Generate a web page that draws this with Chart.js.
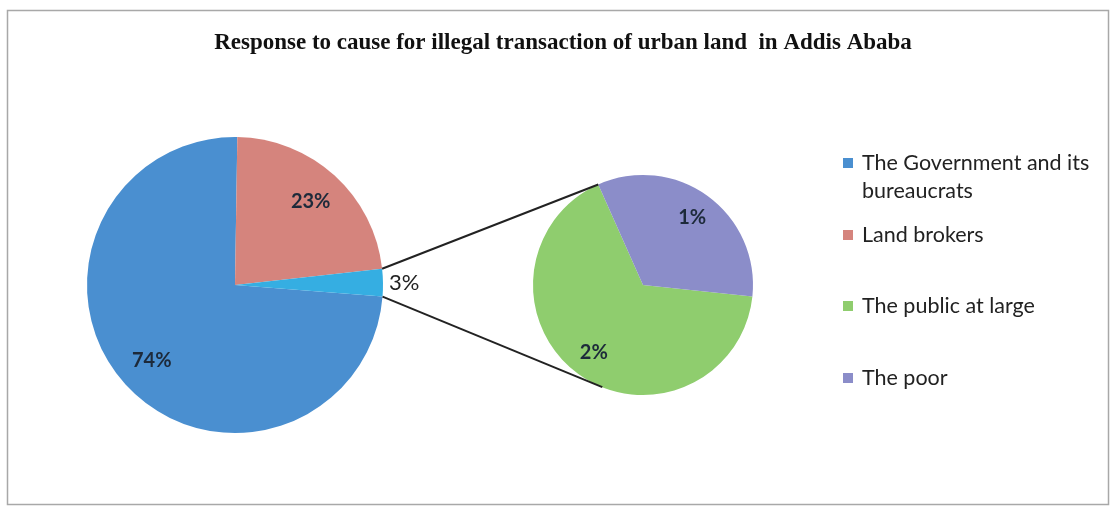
<!DOCTYPE html>
<html>
<head>
<meta charset="utf-8">
<title>Response to cause for illegal transaction of urban land in Addis Ababa</title>
<script src="https://cdn.jsdelivr.net/npm/chart.js@4/dist/chart.umd.min.js"></script>
<style>
    html, body { margin: 0; padding: 0; background: #fff; }
    #wrap { position: relative; width: 1120px; height: 507px; }
    #wrap canvas { position: absolute; left: 0; top: 0; }
</style>
</head>
<body>
<div id="wrap">
    <canvas id="mainPie" width="1120" height="507"></canvas>
    <canvas id="subPie" width="1120" height="507"></canvas>
</div>
<script>
// data
const chartTitle = "Response to cause for illegal transaction of urban land  in Addis Ababa";
const categories = ["The Government and its bureaucrats", "Land brokers", "The public at large", "The poor"];
const mainLabels = ["The Government and its bureaucrats", "Land brokers", "Other"];
const mainValues = [74, 23, 3];
const subLabels = ["The public at large", "The poor"];
const subValues = [2, 1];

const mainColors = ["#4a8fd0", "#d5847d", "#35aee2"];
const subColors = ["#8fcd6e", "#8b8dc9"];
const legendColors = ["#4a8fd0", "#d5847d", "#8fcd6e", "#8b8dc9"];

const W = 1120, H = 507;

// labels inside the slices, small ones go outside
const sliceLabels = {
    id: "sliceLabels",
    afterDatasetsDraw(chart) {
        const ctx = chart.ctx;
        const values = chart.data.datasets[0].data;
        const total = values.reduce((a, b) => a + b, 0);
        chart.getDatasetMeta(0).data.forEach((arc, i) => {
            const mid = (arc.startAngle + arc.endAngle) / 2;
            const text = values[i] + "%";
            ctx.save();
            ctx.textBaseline = "middle";
            if (values[i] / total < 0.05) {
                const r = arc.outerRadius + 6;
                ctx.font = "22px Lato";
                ctx.fillStyle = "#222";
                ctx.textAlign = "left";
                ctx.fillText(text, arc.x + r * Math.cos(mid), arc.y + r * Math.sin(mid));
            } else {
                const r = arc.outerRadius * 0.76;
                ctx.font = "bold 20px Lato";
                ctx.fillStyle = "#1d2a3a";
                ctx.textAlign = "center";
                ctx.fillText(text, arc.x + r * Math.cos(mid), arc.y + r * Math.sin(mid));
            }
            ctx.restore();
        });
    }
};

// white background, frame and title
const frameAndTitle = {
    id: "frameAndTitle",
    beforeDraw(chart) {
        const ctx = chart.ctx;
        ctx.save();
        ctx.fillStyle = "#fff";
        ctx.fillRect(0, 0, W, H);
        ctx.strokeStyle = "#a8a8a8";
        ctx.lineWidth = 1.5;
        ctx.strokeRect(7.5, 10.5, 1101, 494);
        ctx.font = "bold 23px 'Liberation Serif'";
        ctx.fillStyle = "#111";
        ctx.textAlign = "center";
        ctx.textBaseline = "middle";
        ctx.fillText(chartTitle, 563, 43);
        ctx.restore();
    }
};

const mainChart = new Chart(document.getElementById("mainPie"), {
    type: "pie",
    data: {
        labels: mainLabels,
        datasets: [{
            data: mainValues,
            backgroundColor: mainColors,
            borderWidth: 0
        }]
    },
    options: {
        responsive: false,
        animation: false,
        // split slice sits on the right-hand side, red starting near the top
        rotation: 94.5,
        layout: { padding: { left: 87, right: 737, top: 137, bottom: 74 } },
        plugins: { legend: { display: false }, tooltip: { enabled: false } }
    },
    plugins: [frameAndTitle, sliceLabels]
});

// lines from the split slice to the secondary pie, plus the legend
const connectorsAndLegend = {
    id: "connectorsAndLegend",
    afterDraw(chart) {
        const ctx = chart.ctx;
        const metaMain = mainChart.getDatasetMeta(0).data;
        const other = metaMain[metaMain.length - 1];
        const sub = chart.getDatasetMeta(0).data;
        const poor = sub[sub.length - 1];
        const topA = poor.startAngle;
        const botA = -topA - 0.04;
        const pts = [
            [other.startAngle, topA],
            [other.endAngle, botA]
        ];
        ctx.save();
        ctx.strokeStyle = "#222";
        ctx.lineWidth = 2;
        pts.forEach(([a, b]) => {
            ctx.beginPath();
            ctx.moveTo(other.x + other.outerRadius * Math.cos(a), other.y + other.outerRadius * Math.sin(a));
            ctx.lineTo(poor.x + poor.outerRadius * Math.cos(b), poor.y + poor.outerRadius * Math.sin(b));
            ctx.stroke();
        });

        // legend
        const rowY = [163, 235, 306, 378];
        ctx.font = "21.5px Lato";
        ctx.textBaseline = "middle";
        ctx.textAlign = "left";
        categories.forEach((name, i) => {
            ctx.fillStyle = legendColors[i];
            ctx.fillRect(843, rowY[i] - 5, 10, 10);
            ctx.fillStyle = "#222";
            // wrap long names like Excel does
            const words = name.split(" ");
            let line = "", lines = [];
            words.forEach(w => {
                const test = line ? line + " " + w : w;
                if (ctx.measureText(test).width > 240 && line) {
                    lines.push(line);
                    line = w;
                } else {
                    line = test;
                }
            });
            lines.push(line);
            lines.forEach((l, k) => ctx.fillText(l, 862, rowY[i] + k * 28));
        });
        ctx.restore();
    }
};

new Chart(document.getElementById("subPie"), {
    type: "pie",
    data: {
        labels: subLabels,
        datasets: [{
            data: subValues,
            backgroundColor: subColors,
            borderWidth: 0
        }]
    },
    options: {
        responsive: false,
        animation: false,
        rotation: 96,
        layout: { padding: { left: 533, right: 367, top: 175, bottom: 112 } },
        plugins: { legend: { display: false }, tooltip: { enabled: false } }
    },
    plugins: [sliceLabels, connectorsAndLegend]
});
</script>
</body>
</html>
